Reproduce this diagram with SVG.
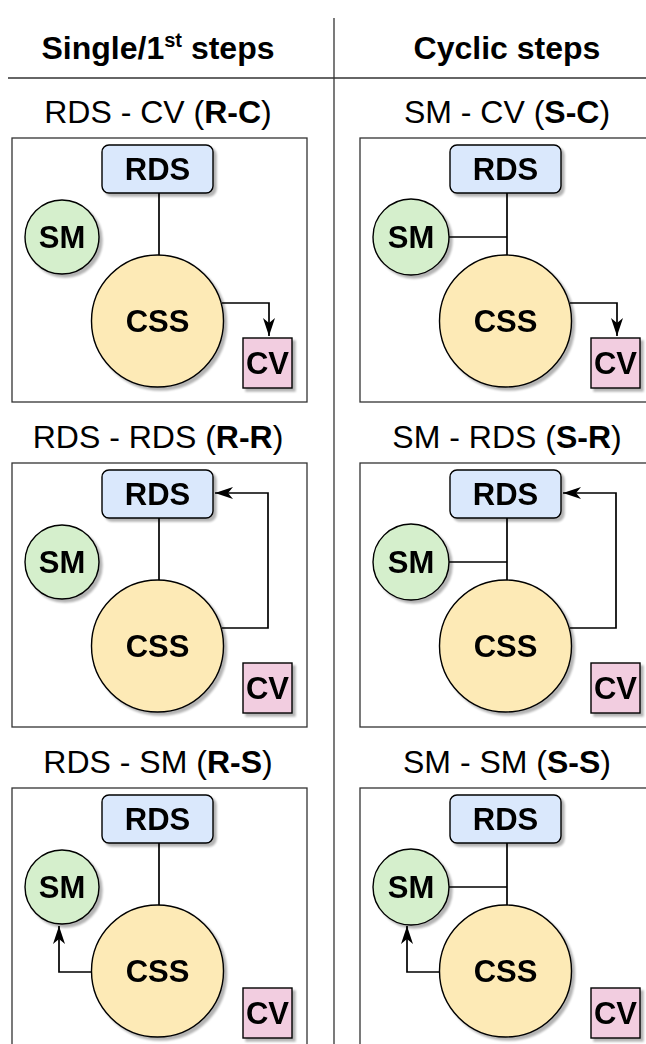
<svg xmlns="http://www.w3.org/2000/svg" width="646" height="1044" viewBox="0 0 646 1044">
<style>
.hd{font-family:"Liberation Sans",Arial,sans-serif;font-size:32px;font-weight:bold;fill:#000;text-anchor:middle}
.st{font-family:"Liberation Sans",Arial,sans-serif;font-size:32px;fill:#000;text-anchor:middle}
.lb{font-family:"Liberation Sans",Arial,sans-serif;font-size:31px;font-weight:bold;fill:#000;text-anchor:middle}
.box{fill:#fff;stroke:#333;stroke-width:1.3}
.div{stroke:#333;stroke-width:1.3;fill:none}
.rds{fill:#dae8fc;stroke:#000;stroke-width:1.4}
.sm{fill:#d5efcc;stroke:#000;stroke-width:1.4}
.css{fill:#fdeab6;stroke:#000;stroke-width:1.4}
.cv{fill:#f2cde0;stroke:#000;stroke-width:1.4}
.ln{fill:none;stroke:#000;stroke-width:1.7}
.ar{fill:none;stroke:#000;stroke-width:1.7;marker-end:url(#arr)}
</style>
<defs>
<filter id="sh" x="-20%" y="-20%" width="150%" height="150%">
<feGaussianBlur in="SourceAlpha" stdDeviation="1"/>
<feOffset dx="3" dy="3" result="o"/>
<feComponentTransfer><feFuncA type="linear" slope="0.3"/></feComponentTransfer>
<feMerge><feMergeNode/><feMergeNode in="SourceGraphic"/></feMerge>
</filter>
<marker id="arr" viewBox="0 0 18 12" refX="18" refY="6" markerWidth="18" markerHeight="12" orient="auto" markerUnits="userSpaceOnUse">
<path d="M0,0 L18,6 L0,12 L5,6 z" fill="#000"/>
</marker>
</defs>
<rect width="646" height="1044" fill="#fff"/>
<g id="grid">
<line class="div" x1="334" y1="18" x2="334" y2="1044"/>
<line class="div" x1="8" y1="78" x2="646" y2="78"/>
<text class="hd" x="158" y="59">Single/1<tspan font-size="20" dy="-12">st</tspan><tspan dy="12"> steps</tspan></text>
<text class="hd" x="507" y="59">Cyclic steps</text>
<text class="st" x="158" y="123">RDS - CV (<tspan font-weight="bold">R-C</tspan>)</text>
<text class="st" x="507" y="123">SM - CV (<tspan font-weight="bold">S-C</tspan>)</text>
<text class="st" x="158" y="448">RDS - RDS (<tspan font-weight="bold">R-R</tspan>)</text>
<text class="st" x="507" y="448">SM - RDS (<tspan font-weight="bold">S-R</tspan>)</text>
<text class="st" x="158" y="773">RDS - SM (<tspan font-weight="bold">R-S</tspan>)</text>
<text class="st" x="507" y="773">SM - SM (<tspan font-weight="bold">S-S</tspan>)</text>
</g>
<g id="panels">
<rect class="box" x="12" y="138" width="295" height="264"/>
<rect class="box" x="360" y="138" width="300" height="264"/>
<rect class="box" x="12" y="463" width="295" height="264"/>
<rect class="box" x="360" y="463" width="300" height="264"/>
<rect class="box" x="12" y="788" width="295" height="270"/>
<rect class="box" x="360" y="788" width="300" height="270"/>
</g>
<g id="connectors">
<path class="ln" d="M159,193 V255"/>
<path class="ar" d="M222,303 H269 V336"/>
<path class="ln" d="M507,193 V255 M449,237 H507"/>
<path class="ar" d="M570,303 H617 V336"/>
<path class="ln" d="M159,518 V580"/>
<path class="ar" d="M222,628 H268 V493 H215"/>
<path class="ln" d="M507,518 V580 M449,562 H507"/>
<path class="ar" d="M570,628 H616 V493 H563"/>
<path class="ln" d="M159,843 V905"/>
<path class="ar" d="M91,972 H59 V926"/>
<path class="ln" d="M507,843 V905 M449,887 H507"/>
<path class="ar" d="M439,972 H407 V926"/>
</g>
<g id="rc-rds" filter="url(#sh)"><rect class="rds" x="102" y="145" width="111" height="48" rx="7"/><text class="lb" x="157.5" y="180">RDS</text></g>
<g id="rc-sm" filter="url(#sh)"><circle class="sm" cx="62" cy="237" r="37"/><text class="lb" x="62" y="248">SM</text></g>
<g id="rc-css" filter="url(#sh)"><circle class="css" cx="157.5" cy="321" r="66"/><text class="lb" x="157.5" y="332">CSS</text></g>
<g id="rc-cv" filter="url(#sh)"><rect class="cv" x="243" y="338" width="49" height="50"/><text class="lb" x="267.5" y="374">CV</text></g>
<g id="sc-rds" filter="url(#sh)"><rect class="rds" x="450" y="145" width="111" height="48" rx="7"/><text class="lb" x="505.5" y="180">RDS</text></g>
<g id="sc-sm" filter="url(#sh)"><circle class="sm" cx="411" cy="237" r="38"/><text class="lb" x="411" y="248">SM</text></g>
<g id="sc-css" filter="url(#sh)"><circle class="css" cx="505.5" cy="321" r="66"/><text class="lb" x="505.5" y="332">CSS</text></g>
<g id="sc-cv" filter="url(#sh)"><rect class="cv" x="591" y="338" width="49" height="50"/><text class="lb" x="615.5" y="374">CV</text></g>
<g id="rr-rds" filter="url(#sh)"><rect class="rds" x="102" y="470" width="111" height="48" rx="7"/><text class="lb" x="157.5" y="505">RDS</text></g>
<g id="rr-sm" filter="url(#sh)"><circle class="sm" cx="62" cy="562" r="37"/><text class="lb" x="62" y="573">SM</text></g>
<g id="rr-css" filter="url(#sh)"><circle class="css" cx="157.5" cy="646" r="66"/><text class="lb" x="157.5" y="657">CSS</text></g>
<g id="rr-cv" filter="url(#sh)"><rect class="cv" x="243" y="663" width="49" height="50"/><text class="lb" x="267.5" y="699">CV</text></g>
<g id="sr-rds" filter="url(#sh)"><rect class="rds" x="450" y="470" width="111" height="48" rx="7"/><text class="lb" x="505.5" y="505">RDS</text></g>
<g id="sr-sm" filter="url(#sh)"><circle class="sm" cx="411" cy="562" r="38"/><text class="lb" x="411" y="573">SM</text></g>
<g id="sr-css" filter="url(#sh)"><circle class="css" cx="505.5" cy="646" r="66"/><text class="lb" x="505.5" y="657">CSS</text></g>
<g id="sr-cv" filter="url(#sh)"><rect class="cv" x="591" y="663" width="49" height="50"/><text class="lb" x="615.5" y="699">CV</text></g>
<g id="rs-rds" filter="url(#sh)"><rect class="rds" x="102" y="795" width="111" height="48" rx="7"/><text class="lb" x="157.5" y="830">RDS</text></g>
<g id="rs-sm" filter="url(#sh)"><circle class="sm" cx="62" cy="887" r="37"/><text class="lb" x="62" y="898">SM</text></g>
<g id="rs-css" filter="url(#sh)"><circle class="css" cx="157.5" cy="971" r="66"/><text class="lb" x="157.5" y="982">CSS</text></g>
<g id="rs-cv" filter="url(#sh)"><rect class="cv" x="243" y="988" width="49" height="50"/><text class="lb" x="267.5" y="1024">CV</text></g>
<g id="ss-rds" filter="url(#sh)"><rect class="rds" x="450" y="795" width="111" height="48" rx="7"/><text class="lb" x="505.5" y="830">RDS</text></g>
<g id="ss-sm" filter="url(#sh)"><circle class="sm" cx="411" cy="887" r="38"/><text class="lb" x="411" y="898">SM</text></g>
<g id="ss-css" filter="url(#sh)"><circle class="css" cx="505.5" cy="971" r="66"/><text class="lb" x="505.5" y="982">CSS</text></g>
<g id="ss-cv" filter="url(#sh)"><rect class="cv" x="591" y="988" width="49" height="50"/><text class="lb" x="615.5" y="1024">CV</text></g>
</svg>
